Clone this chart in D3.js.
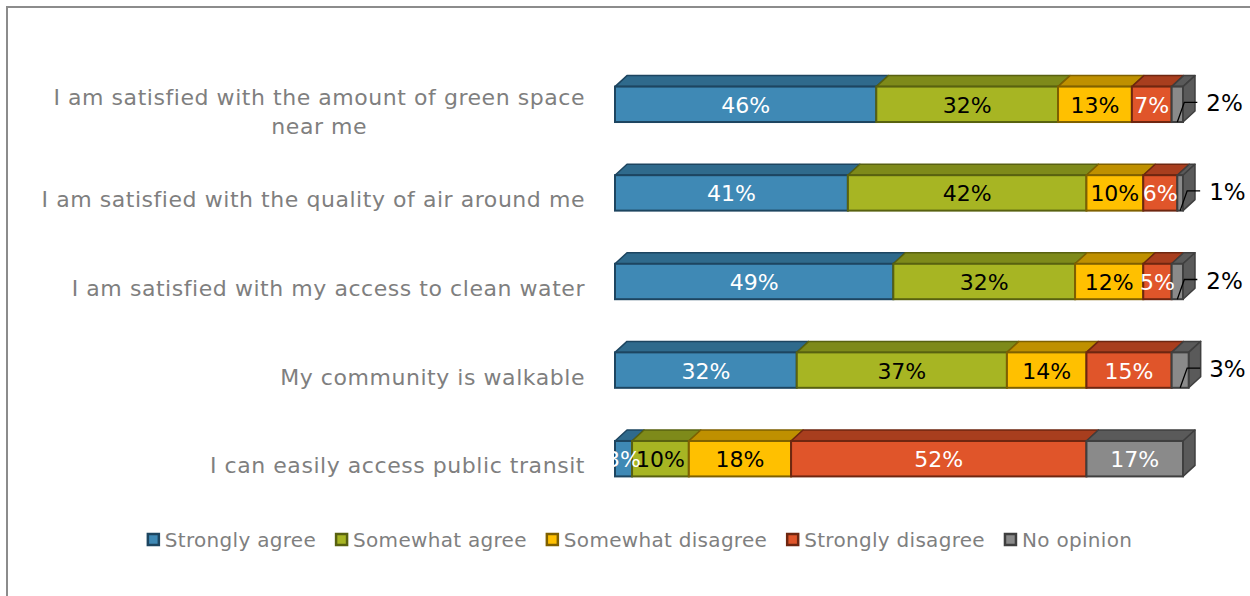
<!DOCTYPE html>
<html>
<head>
<meta charset="utf-8">
<script src="https://cdn.jsdelivr.net/npm/d3@7"></script>
<style>
  html, body { margin: 0; padding: 0; background: #fff; }
  svg { display: block; }
  text { font-family: "DejaVu Sans", "Open Sans", sans-serif; }
</style>
</head>
<body>
<svg id="chart" width="1250" height="596"></svg>
<script>
// Survey statements (top to bottom) and their response shares (%)
const statements = [
  ["I am satisfied with the amount of green space", "near me"],
  ["I am satisfied with the quality of air around me"],
  ["I am satisfied with my access to clean water"],
  ["My community is walkable"],
  ["I can easily access public transit"]
];
const responses = ["Strongly agree", "Somewhat agree", "Somewhat disagree", "Strongly disagree", "No opinion"];
const stronglyAgree    = [46, 41, 49, 32, 3];
const somewhatAgree    = [32, 42, 32, 37, 10];
const somewhatDisagree = [13, 10, 12, 14, 18];
const stronglyDisagree = [7, 6, 5, 15, 52];
const noOpinion        = [2, 1, 2, 3, 17];

const seriesValues = [stronglyAgree, somewhatAgree, somewhatDisagree, stronglyDisagree, noOpinion];

// front / top-side / edge shades per response
const palette = [
  { front: "#3f89b5", top: "#2f6a8c", edge: "#1d4560", label: "#ffffff" },
  { front: "#a7b523", top: "#7e8a1a", edge: "#586110", label: "#000000" },
  { front: "#ffc000", top: "#bf9000", edge: "#7f6000", label: "#000000" },
  { front: "#e0552a", top: "#a83e1e", edge: "#6e2610", label: "#ffffff" },
  { front: "#8a8a8a", top: "#5a5a5a", edge: "#3f3f3f", label: "#ffffff" }
];

const svg = d3.select("#chart");

// chart frame
svg.append("rect")
  .attr("x", 7).attr("y", 7).attr("width", 1260).attr("height", 600)
  .attr("fill", "none").attr("stroke", "#8c8c8c").attr("stroke-width", 2);

const x = d3.scaleLinear().domain([0, 100]).range([615, 1183]);
const y = d3.scaleBand().domain(d3.range(statements.length))
  .range([60, 503]).paddingInner(0.6).paddingOuter(0.3);

const depthX = 12, depthY = 11;

// Build stacked rows
const rows = statements.map((s, i) => {
  let acc = 0;
  const segs = seriesValues.map((vals, k) => {
    const v = vals[i];
    const seg = { k, v, x0: acc, x1: acc + v };
    acc += v;
    return seg;
  });
  return { i, segs };
});

const g = svg.append("g");

rows.forEach(row => {
  const y0 = y(row.i), h = y.bandwidth();
  const rg = g.append("g");
  const last = row.segs[row.segs.length - 1];
  row.segs.forEach(s => {
    const c = palette[s.k];
    const a = x(s.x0), b = x(s.x1);
    // top face
    rg.append("path")
      .attr("d", `M${a},${y0}L${a + depthX},${y0 - depthY}L${b + depthX},${y0 - depthY}L${b},${y0}Z`)
      .attr("fill", c.top).attr("stroke", c.edge).attr("stroke-width", 1.5).attr("stroke-linejoin", "round");
    // side face on the right end of the stack
    if (s === last) {
      rg.append("path")
        .attr("d", `M${b},${y0}L${b + depthX},${y0 - depthY}L${b + depthX},${y0 + h - depthY}L${b},${y0 + h}Z`)
        .attr("fill", c.top).attr("stroke", c.edge).attr("stroke-width", 1.5).attr("stroke-linejoin", "round");
    }
  });
  row.segs.forEach(s => {
    const c = palette[s.k];
    rg.append("rect")
      .attr("x", x(s.x0)).attr("y", y0)
      .attr("width", x(s.x1) - x(s.x0)).attr("height", h)
      .attr("fill", c.front).attr("stroke", c.edge).attr("stroke-width", 2);
  });
  // value labels
  row.segs.forEach(s => {
    const c = palette[s.k];
    const a = x(s.x0), b = x(s.x1);
    const cy = y0 + h / 2;
    if (s.k === 4 && s.v <= 3) {
      const mx = (a + b) / 2;
      rg.append("path")
        .attr("d", `M${mx},${y0 + h}L${mx + 7},${cy - 2}L${mx + 20},${cy - 2}`)
        .attr("fill", "none").attr("stroke", "#000").attr("stroke-width", 1.3);
      rg.append("text")
        .attr("x", mx + 29).attr("y", cy - 1)
        .attr("dominant-baseline", "central")
        .attr("font-size", 23).attr("fill", "#000")
        .text(s.v + "%");
    } else {
      rg.append("text")
        .attr("x", (a + b) / 2).attr("y", cy + 1)
        .attr("text-anchor", "middle").attr("dominant-baseline", "central")
        .attr("font-size", 22).attr("fill", c.label)
        .text(s.v + "%");
    }
  });
  // category label
  const lines = statements[row.i];
  const lbl = g.append("text")
    .attr("font-size", 22).attr("letter-spacing", 0.55).attr("fill", "#7f7f7f")
    .attr("dominant-baseline", "central");
  const cyl = y0 + h / 2 + 7;
  if (lines.length === 1) {
    lbl.attr("x", 585).attr("y", cyl).attr("text-anchor", "end").text(lines[0]);
  } else {
    const tmp = lbl.append("tspan").text(lines[0]);
    const w = tmp.node().getComputedTextLength();
    tmp.remove();
    const cx = 585 - w / 2;
    lines.forEach((ln, j) => {
      lbl.append("tspan")
        .attr("x", cx).attr("y", cyl + (j - (lines.length - 1) / 2) * 29)
        .attr("text-anchor", "middle").text(ln);
    });
  }
});

// legend
const legend = svg.append("g");
const items = responses.map((r, k) => {
  const it = legend.append("g");
  it.append("rect").attr("x", 0).attr("y", -6).attr("width", 11).attr("height", 11)
    .attr("fill", palette[k].front).attr("stroke", palette[k].edge).attr("stroke-width", 2.5);
  const t = it.append("text").attr("x", 17).attr("y", 0)
    .attr("dominant-baseline", "central")
    .attr("font-size", 20).attr("letter-spacing", 0.3).attr("fill", "#7f7f7f").text(r);
  return { it, w: 17 + t.node().getComputedTextLength() };
});
const gap = 20;
const total = d3.sum(items, d => d.w) + gap * (items.length - 1);
let lx = 640 - total / 2;
items.forEach(d => {
  d.it.attr("transform", `translate(${lx},540)`);
  lx += d.w + gap;
});
</script>
</body>
</html>
